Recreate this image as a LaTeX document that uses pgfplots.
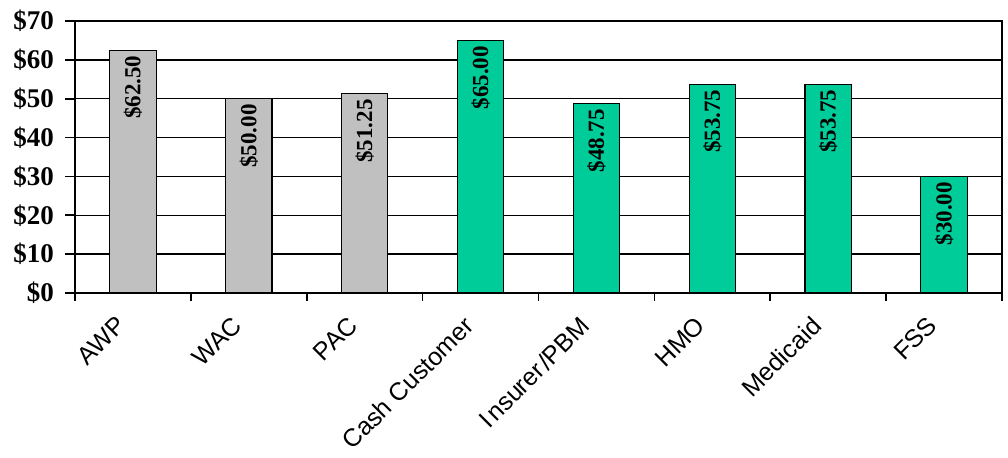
\documentclass[border=0pt]{standalone}
\usepackage{pgfplots}
\usepackage{pgfplotstable}
\pgfplotsset{compat=1.18}
\usepackage{fontspec}
\setmainfont{Liberation Serif}
\newfontfamily\catfont{Liberation Sans}
\definecolor{barGray}{RGB}{192,192,192}
\definecolor{barGreen}{RGB}{0,204,153}

% Benchmark prices
\pgfplotstableread{
x val
0 62.50
1 50.00
2 51.25
}\benchmarks
% Prices paid by purchaser type
\pgfplotstableread{
x val
3 65.00
4 48.75
5 53.75
6 53.75
7 30.00
}\payers

\begin{document}
\begin{tikzpicture}
\begin{axis}[
  scale only axis, width=463.5pt, height=136pt,
  xmin=-0.5, xmax=7.5, ymin=0, ymax=70,
  /pgf/number format/assume math mode=true,
  ytick={0,10,...,70},
  yticklabel={\$\pgfmathprintnumber{\tick}},
  yticklabel style={font=\fontsize{13.5}{13.5}\selectfont\bfseries, xshift=-2pt},
  xtick={0,...,7},
  xticklabels={AWP,WAC,PAC,Cash Customer,I\kern1.5pt nsurer\kern1pt/PBM,HMO,Medicaid,FSS},
  xticklabel style={xshift=-9pt, yshift=-1pt, rotate=45, anchor=north east,
    font=\catfont\fontsize{12.5}{12.5}\selectfont},
  minor xtick={-0.5,0.5,...,7.5},
  major x tick style={draw=none},
  tick align=outside, tick pos=left,
  major tick length=5pt, minor tick length=4pt,
  tick style={black, line width=0.8pt},
  ymajorgrids, major grid style={black, line width=0.7pt},
  axis line style={black, line width=0.8pt},
  ybar, bar width=0.4, bar shift=0pt,
  nodes near coords={\$\pgfmathprintnumber[fixed,fixed zerofill,precision=2]{\pgfplotspointmeta}},
  every node near coord/.append style={rotate=90, anchor=east, inner sep=2.5pt,
    font=\fontsize{11.5}{11.5}\selectfont\bfseries, text=black},
]
\addplot[fill=barGray, draw=black, line width=0.6pt] table[x=x, y=val] {\benchmarks};
\addplot[fill=barGreen, draw=black, line width=0.6pt] table[x=x, y=val] {\payers};
\coordinate (bl) at (rel axis cs:0,0);
\coordinate (tr) at (rel axis cs:1,1);
\end{axis}
\pgfresetboundingbox
\path ([shift={(-37.5pt,-82.5pt)}]bl) rectangle ([shift={(3pt,10.5pt)}]tr);
\end{tikzpicture}
\end{document}
